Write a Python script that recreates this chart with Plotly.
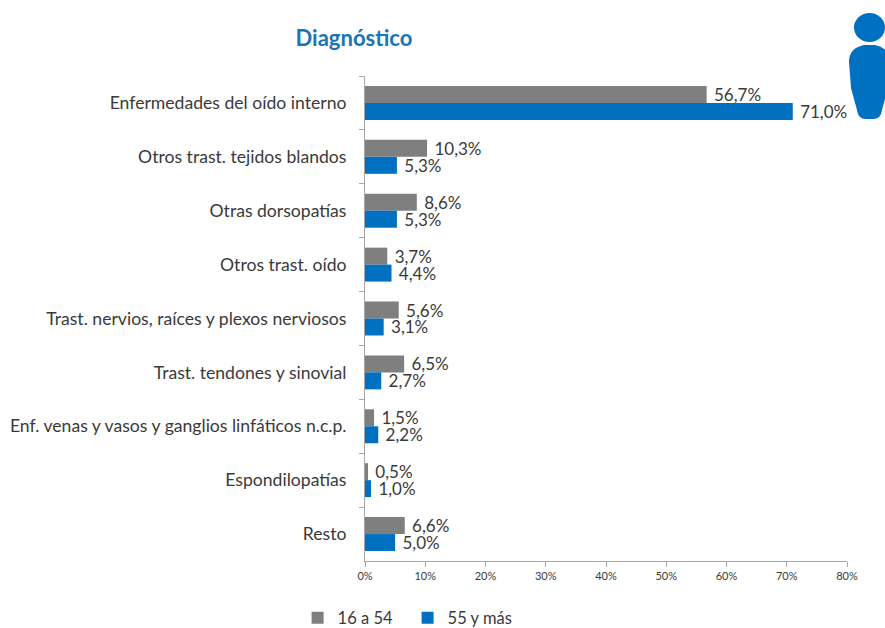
import plotly.graph_objects as go

categories = ["Enfermedades del oído interno", "Otros trast. tejidos blandos", "Otras dorsopatías",
              "Otros trast. oído", "Trast. nervios, raíces y plexos nerviosos", "Trast. tendones y sinovial",
              "Enf. venas y vasos y ganglios linfáticos n.c.p.", "Espondilopatías", "Resto"]
young = [56.7, 10.3, 8.6, 3.7, 5.6, 6.5, 1.5, 0.5, 6.6]
old = [71.0, 5.3, 5.3, 4.4, 3.1, 2.7, 2.2, 1.0, 5.0]
tick_values = [0, 10, 20, 30, 40, 50, 60, 70, 80]
tick_labels = ["0%", "10%", "20%", "30%", "40%", "50%", "60%", "70%", "80%"]

FONT = "Lato"
TEXT = "#3a3a3a"
GRAY = "#7f7f7f"
BLUE = "#0070c0"
W, H = 885, 628
LEFT, RIGHT, TOP, BOTTOM = 365, 847, 76, 561  # plot area in window pixels


def px(x):
    return (x - LEFT) / (RIGHT - LEFT)


def py(y):
    return (BOTTOM - y) / (BOTTOM - TOP)


fig = go.Figure()
for name, vals, col in [("16 a 54", young, GRAY), ("55 y más", old, BLUE)]:
    fig.add_trace(go.Bar(
        y=categories, x=vals, name=name, orientation="h",
        marker=dict(color=col, line_width=0),
        texttemplate="\u00a0%{x:.1f}%", textposition="outside", cliponaxis=False,
        constraintext="none",
        textfont=dict(family=FONT, size=17, color=TEXT),
    ))

body = ("M 849 62 Q 849 48 864 45 L 875 45 Q 890 48 890 62 L 888 88 L 882 110 "
        "Q 881 119 873 119 L 866 119 Q 858 119 857 110 L 851 88 Z")


def to_paper(path):
    out = []
    is_x = True
    for tok in path.split():
        try:
            v = float(tok)
        except ValueError:
            out.append(tok)
            is_x = True
            continue
        out.append(f"{px(v):.5f}" if is_x else f"{py(v):.5f}")
        is_x = not is_x
    return " ".join(out)


fig.update_layout(
    width=W, height=H, autosize=False,
    paper_bgcolor="white", plot_bgcolor="white",
    margin=dict(l=LEFT, r=W - RIGHT, t=TOP, b=H - BOTTOM),
    barmode="group", bargap=0.37, bargroupgap=0,
    separators=",.",
    font=dict(family=FONT, color=TEXT),
    title=dict(text="<b>Diagnóstico</b>", x=354 / W, xanchor="center",
               y=1 - 38 / H, yanchor="middle",
               font=dict(family=FONT, size=22, color="#1a75b5")),
    legend=dict(orientation="h", xref="container", yref="container",
                x=297.6 / W, xanchor="left", y=1 - 618 / H, yanchor="middle",
                font=dict(family=FONT, size=16.5, color=TEXT), traceorder="normal",
                itemwidth=30, entrywidth=65, entrywidthmode="pixels"),
    xaxis=dict(range=[0, 80], tickvals=tick_values, ticktext=tick_labels, showgrid=False, zeroline=False,
               showline=True, linecolor="#a6a6a6", linewidth=1, ticks="outside", ticklen=5, tickcolor="#a6a6a6",
               automargin=False, tickfont=dict(family=FONT, size=11, color=TEXT)),
    yaxis=dict(categoryorder="array", categoryarray=categories, autorange="reversed", showgrid=False,
               showline=True, linecolor="#a6a6a6", linewidth=1, ticks="outside", ticklen=5, tickcolor="#a6a6a6",
               tickson="boundaries", ticklabelstandoff=14, automargin=False,
               tickfont=dict(family=FONT, size=17.6, color=TEXT)),
    shapes=[
        dict(type="circle", xref="paper", yref="paper", x0=px(854), x1=px(885), y0=py(13), y1=py(42),
             fillcolor=BLUE, line_width=0),
        dict(type="path", xref="paper", yref="paper", path=to_paper(body), fillcolor=BLUE, line_width=0),
    ],
)
fig.write_html("out.html", config={"displayModeBar": False},
               post_script="document.body.style.margin='0';")
